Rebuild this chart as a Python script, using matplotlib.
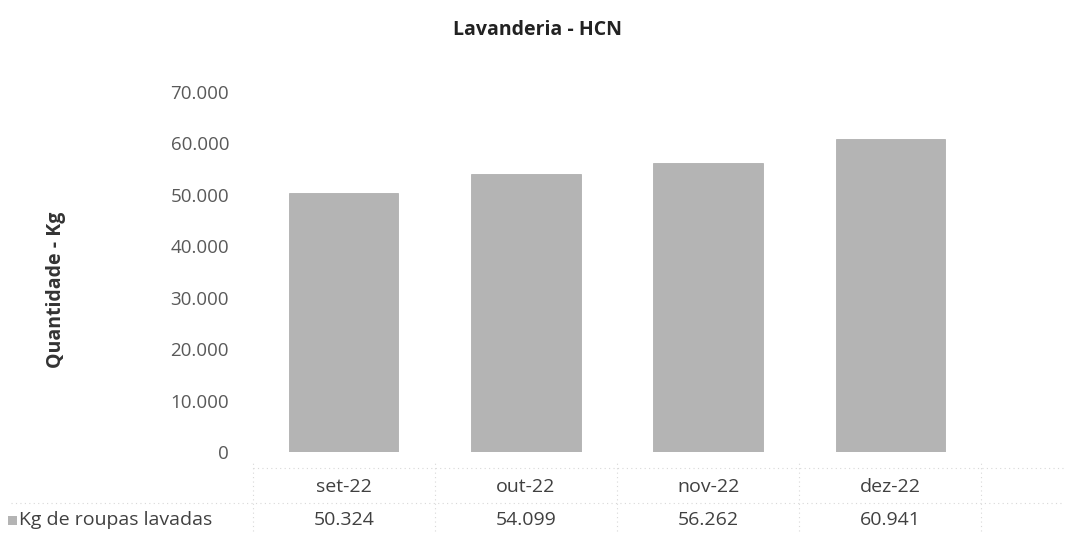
import matplotlib
matplotlib.use("Agg")
import matplotlib.pyplot as plt
from matplotlib.ticker import FuncFormatter
import matplotlib.transforms as mtransforms

categories = ["set-22", "out-22", "nov-22", "dez-22"]
values = [50324, 54099, 56262, 60941]
series_name = "Kg de roupas lavadas"
title = "Lavanderia - HCN"
ylabel = "Quantidade - Kg"
yticks = [0, 10000, 20000, 30000, 40000, 50000, 60000, 70000]

plt.rcParams['font.family'] = ['Open Sans', 'DejaVu Sans']

def fmt(v):
    return f"{int(v):,}".replace(",", ".")

fig = plt.figure(figsize=(10.75, 5.34), dpi=100)
ax = fig.add_axes([0.235, 0.1536, 0.678, 0.6741])

x = list(range(len(categories)))
bar_color = "#b4b4b4"
ax.bar(x, values, width=0.6, color=bar_color, edgecolor="#a8a8a8", linewidth=0.5)
ax.set_xlim(-0.5, len(categories) - 0.5)
ax.set_ylim(0, 70000)
ax.set_yticks(yticks)
ax.yaxis.set_major_formatter(FuncFormatter(lambda v, p: fmt(v)))
ax.tick_params(axis='y', length=0, labelsize=13.5, labelcolor="#595959", pad=17)
ax.set_xticks([])
for s in ax.spines.values():
    s.set_visible(False)

ax.set_ylabel(ylabel, fontsize=14, fontweight='bold', color="#333333")
ax.yaxis.set_label_coords(-0.2565, 0.45)
fig.text(0.5, 0.944, title, ha='center', va='center', fontsize=14, fontweight='bold', color="#222222")

trans = mtransforms.blended_transform_factory(ax.transData, fig.transFigure)
row1_y = 1 - 487 / 534
row2_y = 1 - 520 / 534
for i, (c, v) in enumerate(zip(categories, values)):
    ax.text(i, row1_y, c, transform=trans, ha='center', va='center', fontsize=14, color="#404040")
    ax.text(i, row2_y, fmt(v), transform=trans, ha='center', va='center', fontsize=14, color="#404040")

# faint table lines
line_kw = dict(color="#d8d8d8", linewidth=0.8, linestyle=(0, (1, 3)))
for yy in [1 - 468 / 534, 1 - 503 / 534]:
    fig.add_artist(plt.Line2D([0.01 if yy < 0.1 else 0.235, 0.99], [yy, yy], transform=fig.transFigure, **line_kw))
for i in range(len(categories) + 1):
    xf = fig.transFigure.inverted().transform(ax.transData.transform((i - 0.5, 0)))[0]
    fig.add_artist(plt.Line2D([xf, xf], [0.005, 1 - 462 / 534], transform=fig.transFigure, **line_kw))

# legend key and label
fig.patches.append(plt.Rectangle((8 / 1075, 1 - 525 / 534), 9 / 1075, 9 / 534, transform=fig.transFigure,
                                 facecolor=bar_color, edgecolor="none"))
fig.text(19 / 1075, row2_y, series_name, ha='left', va='center', fontsize=14, color="#404040")

fig.savefig("out.png", dpi=100)
